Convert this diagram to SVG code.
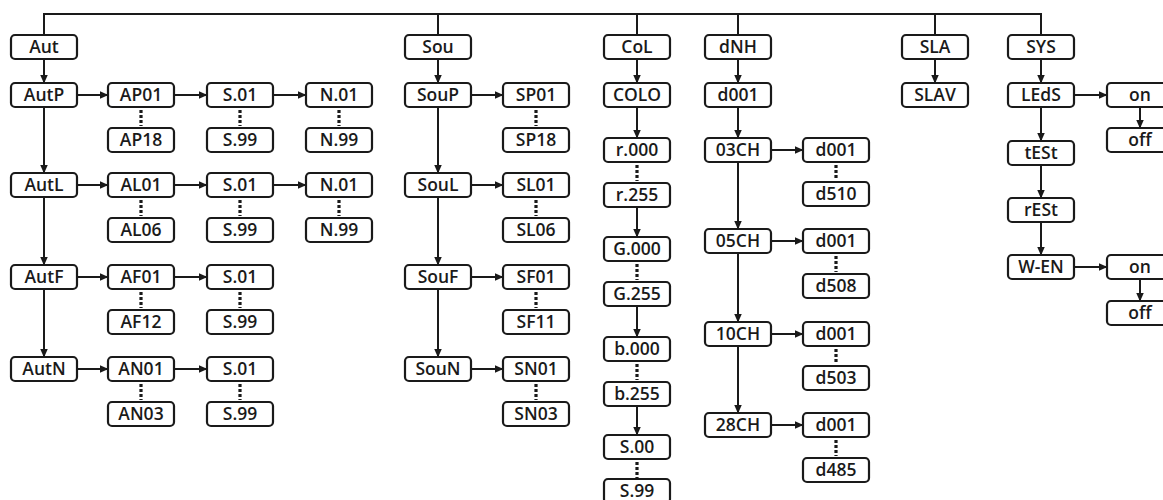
<svg xmlns="http://www.w3.org/2000/svg" width="1163" height="500" viewBox="0 0 1163 500">
<style>
rect{fill:#fff;stroke:#1a1a1a;stroke-width:2.2}
text{font-family:"Open Sans","Liberation Sans",sans-serif;font-size:17.5px;font-weight:600;fill:#1a1a1a;text-anchor:middle}
.c path,.c line{stroke:#1a1a1a;stroke-width:2;fill:none}
.c .a{marker-end:url(#ah)}
.c .d{stroke-width:3.2;stroke-dasharray:3 2}
</style>
<defs>
<marker id="ah" markerUnits="userSpaceOnUse" markerWidth="9" markerHeight="8" refX="8.5" refY="4" orient="auto"><path d="M0,0 L9,4 L0,8 z" fill="#1a1a1a"/></marker>
</defs>
<rect x="0" y="0" width="1163" height="500" style="fill:#fff;stroke:none"/>
<g class="c" id="connectors">
<path d="M44,35 V14 H1041 V35 M438,14 V35 M637,14 V35 M738,14 V35 M935,14 V35"/>
<line class="a" x1="77" y1="95" x2="108" y2="95"/>
<line class="a" x1="174" y1="95" x2="207" y2="95"/>
<line class="a" x1="273" y1="95" x2="306" y2="95"/>
<line class="a" x1="471" y1="95" x2="503" y2="95"/>
<line class="a" x1="1074" y1="95" x2="1107" y2="95"/>
<line class="a" x1="77" y1="185" x2="108" y2="185"/>
<line class="a" x1="174" y1="185" x2="207" y2="185"/>
<line class="a" x1="273" y1="185" x2="306" y2="185"/>
<line class="a" x1="471" y1="185" x2="503" y2="185"/>
<line class="a" x1="77" y1="277" x2="108" y2="277"/>
<line class="a" x1="174" y1="277" x2="207" y2="277"/>
<line class="a" x1="471" y1="277" x2="503" y2="277"/>
<line class="a" x1="77" y1="369" x2="108" y2="369"/>
<line class="a" x1="174" y1="369" x2="207" y2="369"/>
<line class="a" x1="471" y1="369" x2="503" y2="369"/>
<line class="a" x1="771" y1="150" x2="803" y2="150"/>
<line class="a" x1="771" y1="241" x2="803" y2="241"/>
<line class="a" x1="771" y1="334" x2="803" y2="334"/>
<line class="a" x1="771" y1="425" x2="803" y2="425"/>
<line class="a" x1="1074" y1="267" x2="1107" y2="267"/>
<line class="a" x1="44" y1="59" x2="44" y2="83"/>
<line class="a" x1="44" y1="107" x2="44" y2="173"/>
<line class="a" x1="44" y1="197" x2="44" y2="265"/>
<line class="a" x1="44" y1="289" x2="44" y2="357"/>
<line class="a" x1="438" y1="59" x2="438" y2="83"/>
<line class="a" x1="438" y1="107" x2="438" y2="173"/>
<line class="a" x1="438" y1="197" x2="438" y2="265"/>
<line class="a" x1="438" y1="289" x2="438" y2="357"/>
<line class="a" x1="637" y1="59" x2="637" y2="83"/>
<line class="a" x1="637" y1="107" x2="637" y2="138"/>
<line class="a" x1="637" y1="207" x2="637" y2="237"/>
<line class="a" x1="637" y1="306" x2="637" y2="337"/>
<line class="a" x1="637" y1="406" x2="637" y2="435"/>
<line class="a" x1="738" y1="59" x2="738" y2="83"/>
<line class="a" x1="738" y1="107" x2="738" y2="138"/>
<line class="a" x1="738" y1="162" x2="738" y2="229"/>
<line class="a" x1="738" y1="253" x2="738" y2="322"/>
<line class="a" x1="738" y1="346" x2="738" y2="413"/>
<line class="a" x1="935" y1="59" x2="935" y2="83"/>
<line class="a" x1="1041" y1="59" x2="1041" y2="83"/>
<line class="a" x1="1041" y1="107" x2="1041" y2="141"/>
<line class="a" x1="1041" y1="165" x2="1041" y2="198"/>
<line class="a" x1="1041" y1="222" x2="1041" y2="255"/>
<line class="a" x1="1140" y1="107" x2="1140" y2="128"/>
<line class="a" x1="1140" y1="279" x2="1140" y2="301"/>
<path class="d" d="M141,110 V126 M141,200 V216 M141,292 V308 M141,384 V400"/>
<path class="d" d="M240,110 V126 M240,200 V216 M240,292 V308 M240,384 V400"/>
<path class="d" d="M339,110 V126 M339,200 V216"/>
<path class="d" d="M536,110 V126 M536,200 V216 M536,292 V308 M536,384 V400"/>
<path class="d" d="M637,165 V181 M637,264 V280 M637,364 V380 M637,462 V478"/>
<path class="d" d="M836,165 V180 M836,256 V272 M836,349 V364 M836,440 V456"/>
</g>
<g id="n-aut"><rect x="11" y="35" width="66" height="24" rx="4"/><text x="44" y="53">Aut</text></g>
<g id="n-autp"><rect x="11" y="83" width="66" height="24" rx="4"/><text x="44" y="101">AutP</text></g>
<g id="n-autl"><rect x="11" y="173" width="66" height="24" rx="4"/><text x="44" y="191">AutL</text></g>
<g id="n-autf"><rect x="11" y="265" width="66" height="24" rx="4"/><text x="44" y="283">AutF</text></g>
<g id="n-autn"><rect x="11" y="357" width="66" height="24" rx="4"/><text x="44" y="375">AutN</text></g>
<g id="n-ap01"><rect x="108" y="83" width="66" height="24" rx="4"/><text x="141" y="101">AP01</text></g>
<g id="n-ap18"><rect x="108" y="128" width="66" height="24" rx="4"/><text x="141" y="146">AP18</text></g>
<g id="n-al01"><rect x="108" y="173" width="66" height="24" rx="4"/><text x="141" y="191">AL01</text></g>
<g id="n-al06"><rect x="108" y="218" width="66" height="24" rx="4"/><text x="141" y="236">AL06</text></g>
<g id="n-af01"><rect x="108" y="265" width="66" height="24" rx="4"/><text x="141" y="283">AF01</text></g>
<g id="n-af12"><rect x="108" y="310" width="66" height="24" rx="4"/><text x="141" y="328">AF12</text></g>
<g id="n-an01"><rect x="108" y="357" width="66" height="24" rx="4"/><text x="141" y="375">AN01</text></g>
<g id="n-an03"><rect x="108" y="402" width="66" height="24" rx="4"/><text x="141" y="420">AN03</text></g>
<g id="n-p-s01"><rect x="207" y="83" width="66" height="24" rx="4"/><text x="240" y="101">S.01</text></g>
<g id="n-p-s99"><rect x="207" y="128" width="66" height="24" rx="4"/><text x="240" y="146">S.99</text></g>
<g id="n-l-s01"><rect x="207" y="173" width="66" height="24" rx="4"/><text x="240" y="191">S.01</text></g>
<g id="n-l-s99"><rect x="207" y="218" width="66" height="24" rx="4"/><text x="240" y="236">S.99</text></g>
<g id="n-f-s01"><rect x="207" y="265" width="66" height="24" rx="4"/><text x="240" y="283">S.01</text></g>
<g id="n-f-s99"><rect x="207" y="310" width="66" height="24" rx="4"/><text x="240" y="328">S.99</text></g>
<g id="n-n-s01"><rect x="207" y="357" width="66" height="24" rx="4"/><text x="240" y="375">S.01</text></g>
<g id="n-n-s99"><rect x="207" y="402" width="66" height="24" rx="4"/><text x="240" y="420">S.99</text></g>
<g id="n-p-n01"><rect x="306" y="83" width="66" height="24" rx="4"/><text x="339" y="101">N.01</text></g>
<g id="n-p-n99"><rect x="306" y="128" width="66" height="24" rx="4"/><text x="339" y="146">N.99</text></g>
<g id="n-l-n01"><rect x="306" y="173" width="66" height="24" rx="4"/><text x="339" y="191">N.01</text></g>
<g id="n-l-n99"><rect x="306" y="218" width="66" height="24" rx="4"/><text x="339" y="236">N.99</text></g>
<g id="n-sou"><rect x="405" y="35" width="66" height="24" rx="4"/><text x="438" y="53">Sou</text></g>
<g id="n-soup"><rect x="405" y="83" width="66" height="24" rx="4"/><text x="438" y="101">SouP</text></g>
<g id="n-soul"><rect x="405" y="173" width="66" height="24" rx="4"/><text x="438" y="191">SouL</text></g>
<g id="n-souf"><rect x="405" y="265" width="66" height="24" rx="4"/><text x="438" y="283">SouF</text></g>
<g id="n-soun"><rect x="405" y="357" width="66" height="24" rx="4"/><text x="438" y="375">SouN</text></g>
<g id="n-sp01"><rect x="503" y="83" width="66" height="24" rx="4"/><text x="536" y="101">SP01</text></g>
<g id="n-sp18"><rect x="503" y="128" width="66" height="24" rx="4"/><text x="536" y="146">SP18</text></g>
<g id="n-sl01"><rect x="503" y="173" width="66" height="24" rx="4"/><text x="536" y="191">SL01</text></g>
<g id="n-sl06"><rect x="503" y="218" width="66" height="24" rx="4"/><text x="536" y="236">SL06</text></g>
<g id="n-sf01"><rect x="503" y="265" width="66" height="24" rx="4"/><text x="536" y="283">SF01</text></g>
<g id="n-sf11"><rect x="503" y="310" width="66" height="24" rx="4"/><text x="536" y="328">SF11</text></g>
<g id="n-sn01"><rect x="503" y="357" width="66" height="24" rx="4"/><text x="536" y="375">SN01</text></g>
<g id="n-sn03"><rect x="503" y="402" width="66" height="24" rx="4"/><text x="536" y="420">SN03</text></g>
<g id="n-col"><rect x="604" y="35" width="66" height="24" rx="4"/><text x="637" y="53">CoL</text></g>
<g id="n-colo"><rect x="604" y="83" width="66" height="24" rx="4"/><text x="637" y="101">COLO</text></g>
<g id="n-r000"><rect x="604" y="138" width="66" height="24" rx="4"/><text x="637" y="156">r.000</text></g>
<g id="n-r255"><rect x="604" y="183" width="66" height="24" rx="4"/><text x="637" y="201">r.255</text></g>
<g id="n-g000"><rect x="604" y="237" width="66" height="24" rx="4"/><text x="637" y="255">G.000</text></g>
<g id="n-g255"><rect x="604" y="282" width="66" height="24" rx="4"/><text x="637" y="300">G.255</text></g>
<g id="n-b000"><rect x="604" y="337" width="66" height="24" rx="4"/><text x="637" y="355">b.000</text></g>
<g id="n-b255"><rect x="604" y="382" width="66" height="24" rx="4"/><text x="637" y="400">b.255</text></g>
<g id="n-col-s00"><rect x="604" y="435" width="66" height="24" rx="4"/><text x="637" y="453">S.00</text></g>
<g id="n-col-s99"><rect x="604" y="479" width="66" height="24" rx="4"/><text x="637" y="497">S.99</text></g>
<g id="n-dnh"><rect x="705" y="35" width="66" height="24" rx="4"/><text x="738" y="53">dNH</text></g>
<g id="n-dnh-d001"><rect x="705" y="83" width="66" height="24" rx="4"/><text x="738" y="101">d001</text></g>
<g id="n-03ch"><rect x="705" y="138" width="66" height="24" rx="4"/><text x="738" y="156">03CH</text></g>
<g id="n-05ch"><rect x="705" y="229" width="66" height="24" rx="4"/><text x="738" y="247">05CH</text></g>
<g id="n-10ch"><rect x="705" y="322" width="66" height="24" rx="4"/><text x="738" y="340">10CH</text></g>
<g id="n-28ch"><rect x="705" y="413" width="66" height="24" rx="4"/><text x="738" y="431">28CH</text></g>
<g id="n-03-d001"><rect x="803" y="138" width="66" height="24" rx="4"/><text x="836" y="156">d001</text></g>
<g id="n-d510"><rect x="803" y="182" width="66" height="24" rx="4"/><text x="836" y="200">d510</text></g>
<g id="n-05-d001"><rect x="803" y="229" width="66" height="24" rx="4"/><text x="836" y="247">d001</text></g>
<g id="n-d508"><rect x="803" y="274" width="66" height="24" rx="4"/><text x="836" y="292">d508</text></g>
<g id="n-10-d001"><rect x="803" y="322" width="66" height="24" rx="4"/><text x="836" y="340">d001</text></g>
<g id="n-d503"><rect x="803" y="366" width="66" height="24" rx="4"/><text x="836" y="384">d503</text></g>
<g id="n-28-d001"><rect x="803" y="413" width="66" height="24" rx="4"/><text x="836" y="431">d001</text></g>
<g id="n-d485"><rect x="803" y="458" width="66" height="24" rx="4"/><text x="836" y="476">d485</text></g>
<g id="n-sla"><rect x="902" y="35" width="66" height="24" rx="4"/><text x="935" y="53">SLA</text></g>
<g id="n-slav"><rect x="902" y="83" width="66" height="24" rx="4"/><text x="935" y="101">SLAV</text></g>
<g id="n-sys"><rect x="1008" y="35" width="66" height="24" rx="4"/><text x="1041" y="53">SYS</text></g>
<g id="n-leds"><rect x="1008" y="83" width="66" height="24" rx="4"/><text x="1041" y="101">LEdS</text></g>
<g id="n-test"><rect x="1008" y="141" width="66" height="24" rx="4"/><text x="1041" y="159">tESt</text></g>
<g id="n-rest"><rect x="1008" y="198" width="66" height="24" rx="4"/><text x="1041" y="216">rESt</text></g>
<g id="n-wen"><rect x="1008" y="255" width="66" height="24" rx="4"/><text x="1041" y="273">W-EN</text></g>
<g id="n-leds-on"><rect x="1107" y="83" width="66" height="24" rx="4"/><text x="1140" y="101">on</text></g>
<g id="n-leds-off"><rect x="1107" y="128" width="66" height="24" rx="4"/><text x="1140" y="146">off</text></g>
<g id="n-wen-on"><rect x="1107" y="255" width="66" height="24" rx="4"/><text x="1140" y="273">on</text></g>
<g id="n-wen-off"><rect x="1107" y="301" width="66" height="24" rx="4"/><text x="1140" y="319">off</text></g>
</svg>
